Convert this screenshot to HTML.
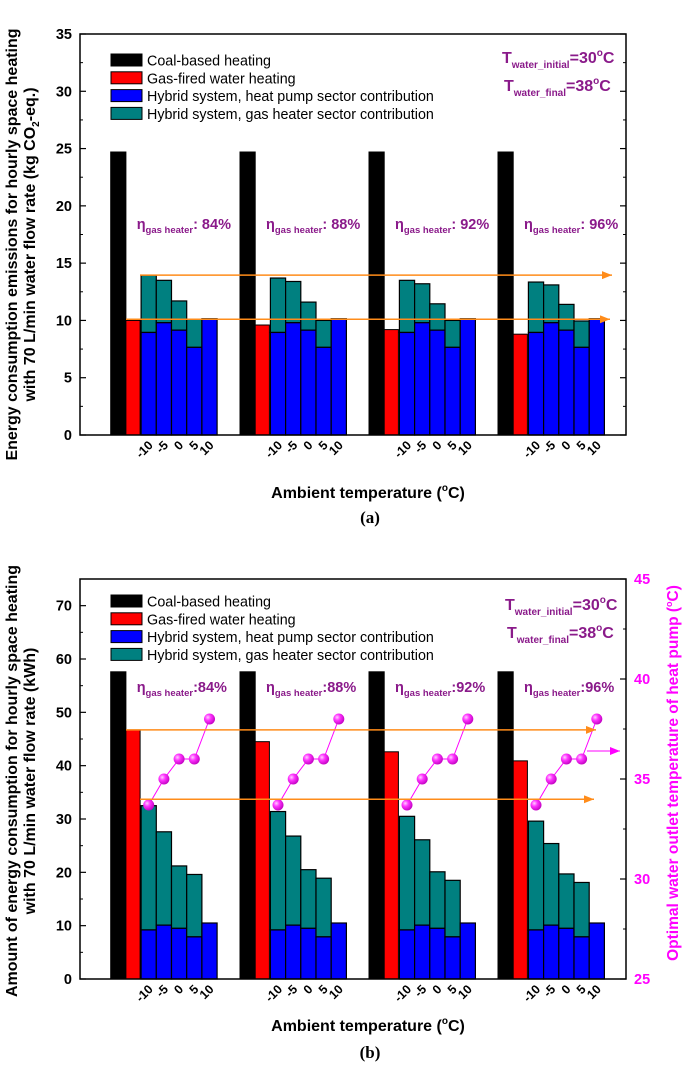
<!DOCTYPE html>
<html><head><meta charset="utf-8"><style>
html,body{margin:0;padding:0;background:#fff;}
svg{display:block;font-family:"Liberation Sans",sans-serif;}
</style></head><body>
<svg id="fig" width="685" height="1069" viewBox="0 0 685 1069"></svg>
<script>
// Shared data
const temps = ["-10","-5","0","5","10"];
const efficiencies = ["84%","88%","92%","96%"];
// Chart (a): emissions kg CO2-eq
const coalA = [24.7, 24.7, 24.7, 24.7];
const gasA = [10.0, 9.6, 9.2, 8.8];
const hpA = [8.95, 9.8, 9.15, 7.65, 10.15];
const totalA = [
  [13.95, 13.5, 11.7, 10.1, 10.15],
  [13.7, 13.4, 11.6, 10.0, 10.15],
  [13.5, 13.2, 11.45, 10.0, 10.15],
  [13.35, 13.1, 11.4, 9.95, 10.15]
];
const yTicksA = [0,5,10,15,20,25,30,35];
const arrowsA = [13.95, 10.1];
// Chart (b): energy kWh
const coalB = [57.6, 57.6, 57.6, 57.6];
const gasB = [46.7, 44.5, 42.6, 40.9];
const hpB = [9.2, 10.1, 9.5, 7.9, 10.5];
const totalB = [
  [32.5, 27.6, 21.2, 19.6, 10.5],
  [31.4, 26.8, 20.5, 18.9, 10.5],
  [30.5, 26.1, 20.1, 18.5, 10.5],
  [29.6, 25.4, 19.7, 18.1, 10.5]
];
const outletT = [33.7, 35, 36, 36, 38];
const yTicksB = [0,10,20,30,40,50,60,70];
const yTicksR = [25,30,35,40,45];
const arrowsB = [46.7, 33.7];

const NS="http://www.w3.org/2000/svg";
const svg=document.getElementById('fig');
function el(tag,attrs,parent){const e=document.createElementNS(NS,tag);for(const k in attrs)e.setAttribute(k,attrs[k]);(parent||svg).appendChild(e);return e;}
const defs=el('defs',{});
defs.innerHTML='<marker id="ao" markerWidth="10" markerHeight="8" refX="10" refY="4" orient="auto" markerUnits="userSpaceOnUse"><path d="M0,0 L10,4 L0,8 z" fill="#ff8c1a"/></marker><marker id="ap" markerWidth="10" markerHeight="8" refX="10" refY="4" orient="auto" markerUnits="userSpaceOnUse"><path d="M0,0 L10,4 L0,8 z" fill="#ff00ff"/></marker><radialGradient id="ball" cx="0.35" cy="0.35" r="0.7"><stop offset="0" stop-color="#ffd0ff"/><stop offset="0.4" stop-color="#ff33ff"/><stop offset="1" stop-color="#c000c0"/></radialGradient>';

const X0=80, X1=626, groupStart=[110.7,240,369,498], BW=15.2;
const purple="#8a1a8a";

function drawChart(o){
  const g=el('g',{});
  
  
  const y=v=>o.bottom-(v-o.ymin)/(o.ymax-o.ymin)*(o.bottom-o.top);
  for(let gi=0;gi<4;gi++){
    const bx=groupStart[gi];
    let r=el('rect',{x:bx,y:y(o.coal[gi]),width:BW,height:o.bottom-y(o.coal[gi]),fill:'#000',stroke:'#000'},g);
    
    
    r=el('rect',{x:bx+BW,y:y(o.gas[gi]),width:BW-1,height:o.bottom-y(o.gas[gi]),fill:'#ff0000',stroke:'#000','stroke-width':1},g);
    
    
    for(let t=0;t<5;t++){
      const x=bx+2*BW+t*BW;
      const tot=o.total[gi][t], hp=o.hp[t];
      if(tot>hp){
        r=el('rect',{x:x,y:y(tot),width:BW,height:y(hp)-y(tot),fill:'#008080',stroke:'#000','stroke-width':1.2},g);
        
        
      }
      r=el('rect',{x:x,y:y(hp),width:BW,height:o.bottom-y(hp),fill:'#0000ff',stroke:'#000','stroke-width':1.2},g);
      
      
      const lx=x+BW/2+5, ly=o.bottom+11;
      const tl=el('text',{x:lx,y:ly,'font-size':12.5,'font-weight':'bold','text-anchor':'end',transform:`rotate(-45 ${lx} ${ly})`},g);
      tl.textContent=temps[t];
      
      
    }
    const et=el('text',{x:bx+o.etaDx,y:o.etaY,'font-size':14.5,'font-weight':'bold',fill:purple},g);
    et.innerHTML='η<tspan font-size="9.5" dy="4">gas heater</tspan><tspan dy="-4">'+o.etaSep+efficiencies[gi]+'</tspan>';
    
    
  }
  if(o.outlet){
    const yr=v=>o.bottom-(v-25)/20*(o.bottom-o.top);
    for(let gi=0;gi<4;gi++){
      const pts=o.outlet.map((v,t)=>[groupStart[gi]+2*BW+t*BW+BW/2,yr(v)]);
      const pl=el('polyline',{points:pts.map(p=>p.join(',')).join(' '),fill:'none',stroke:'#ff00ff','stroke-width':1},g);
      
      
      pts.forEach(p=>{const c=el('circle',{cx:p[0],cy:p[1],r:5.5,fill:'url(#ball)'},g);
        
        });
    }
    const pa=el('line',{x1:587,y1:751,x2:620,y2:751,stroke:'#ff00ff','stroke-width':1,'marker-end':'url(#ap)'},g);
    
    
  }
  o.arrows.forEach((v,i)=>{
    const a=el('line',{x1:o.arrowX0[i],y1:y(v),x2:o.arrowX1[i],y2:y(v),stroke:'#ff8c1a','stroke-width':1.5,'marker-end':'url(#ao)'},g);
    
    
  });
  const fr=el('rect',{x:X0,y:o.top,width:X1-X0,height:o.bottom-o.top,fill:'none',stroke:'#000','stroke-width':1.5},g);
  
  
  for(let i=0;i<o.yticks.length;i++){
    const v=o.yticks[i];
    el('line',{x1:X0,y1:y(v),x2:X0+6,y2:y(v),stroke:'#000','stroke-width':1.2},g);
    if(!o.outlet) el('line',{x1:X1,y1:y(v),x2:X1-6,y2:y(v),stroke:'#000','stroke-width':1.2},g);
    const lab=el('text',{x:X0-8,y:y(v)+5,'font-size':14.5,'font-weight':'bold','text-anchor':'end'},g);
    lab.textContent=v;
    
    
    if(i<o.yticks.length-1){
      const m=(v+o.yticks[i+1])/2;
      el('line',{x1:X0,y1:y(m),x2:X0+3,y2:y(m),stroke:'#000','stroke-width':1},g);
      if(!o.outlet) el('line',{x1:X1,y1:y(m),x2:X1-3,y2:y(m),stroke:'#000','stroke-width':1},g);
    }
  }
  if(o.outlet){
    const yr=v=>o.bottom-(v-25)/20*(o.bottom-o.top);
    yTicksR.forEach((v,i)=>{
      el('line',{x1:X1,y1:yr(v),x2:X1-6,y2:yr(v),stroke:'#000','stroke-width':1.2},g);
      if(i<yTicksR.length-1){const m=v+2.5;el('line',{x1:X1,y1:yr(m),x2:X1-3,y2:yr(m),stroke:'#000','stroke-width':1},g);}
      const lab=el('text',{x:634,y:yr(v)+5,'font-size':14.5,'font-weight':'bold',fill:'#ff00ff'},g);
      lab.textContent=v;
      
      
    });
    const rt=el('text',{x:678,y:(o.top+o.bottom)/2-6,'font-size':15.5,'font-weight':'bold',fill:'#ff00ff','text-anchor':'middle',transform:`rotate(-90 678 ${(o.top+o.bottom)/2-6})`},g);
    rt.innerHTML='Optimal water outlet temperature of heat pump (<tspan font-size="9" dy="-6">o</tspan><tspan dy="6">C)</tspan>';
    
    
  }
  const leg=[['#000','Coal-based heating'],['#ff0000','Gas-fired water heating'],['#0000ff','Hybrid system, heat pump sector contribution'],['#008080','Hybrid system, gas heater sector contribution']];
  leg.forEach((l,i)=>{
    const cy=o.legY+i*17.8;
    const lg=el('g',{},g);
    
    
    el('rect',{x:111,y:cy-6,width:31,height:12,fill:l[0],stroke:'#000','stroke-width':1},lg);
    const t=el('text',{x:147,y:cy+5.5,'font-size':14.3},lg);t.textContent=l[1];
  });
  [['water_initial','=30'],['water_final','=38']].forEach((s,i)=>{
    const t=el('text',{x:o.tX[i],y:o.tY[i],'font-size':16,'font-weight':'bold',fill:purple},g);
    t.innerHTML='T<tspan font-size="10" dy="5">'+s[0]+'</tspan><tspan dy="-5">'+s[1]+'</tspan><tspan font-size="10" dy="-7">o</tspan><tspan dy="7">C</tspan>';
    
    
  });
  const cy=(o.top+o.bottom)/2+o.ytOff;
  const yt=el('text',{'font-size':16,'font-weight':'bold','text-anchor':'middle',transform:`translate(17 ${cy}) rotate(-90)`},g);
  yt.innerHTML='<tspan x="0" y="0">'+o.yt1+'</tspan><tspan x="0" y="18">'+o.yt2+'</tspan>';
  
  
  const xt=el('text',{x:368,y:o.xtY,'font-size':16,'font-weight':'bold','text-anchor':'middle'},g);
  xt.innerHTML='Ambient temperature (<tspan font-size="10" dy="-7">o</tspan><tspan dy="7">C)</tspan>';
  
  
  const cap=el('text',{x:370,y:o.capY,'font-size':17,'font-weight':'bold','text-anchor':'middle','font-family':'Liberation Serif, serif'},g);
  cap.textContent=o.caption;
  
  
}

drawChart({name:'chart-a-emissions',top:34,bottom:435,ymin:0,ymax:35,coal:coalA,gas:gasA,hp:hpA,total:totalA,yticks:yTicksA,
  arrows:arrowsA,arrowX0:[140,126],arrowX1:[612,610],etaDx:26,etaY:229,etaSep:': ',legY:60,tX:[502,504],tY:[63,91],
  yt1:'Energy consumption emissions for hourly space heating',yt2:'with 70 L/min water flow rate (kg CO<tspan font-size="10" dy="4">2</tspan><tspan dy="-4">-eq.)</tspan>',ytOff:10,caption:'(a)',xtY:498,capY:523});
drawChart({name:'chart-b-energy',top:579,bottom:979,ymin:0,ymax:75,coal:coalB,gas:gasB,hp:hpB,total:totalB,yticks:yTicksB,outlet:outletT,
  arrows:arrowsB,arrowX0:[126,140],arrowX1:[596,594],etaDx:26,etaY:692,etaSep:':',legY:601,tX:[505,507],tY:[610,638],
  yt1:'Amount of energy consumption for hourly space heating',yt2:'with 70 L/min water flow rate (kWh)',ytOff:2,caption:'(b)',xtY:1031,capY:1058});
</script>
</body></html>
